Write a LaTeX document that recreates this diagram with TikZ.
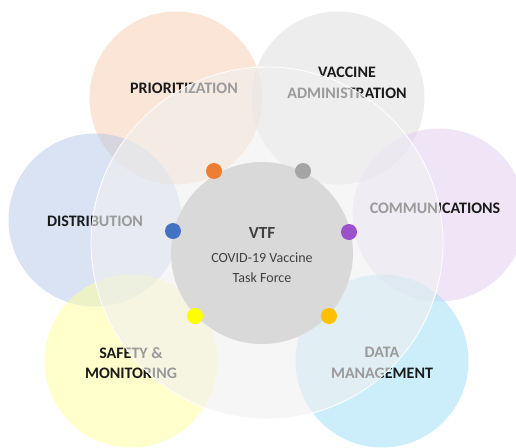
\documentclass[tikz,border=0pt]{standalone}
\usepackage{fontspec}
\setmainfont{Carlito}
\usetikzlibrary{positioning}

\definecolor{prioC}{HTML}{F8CBAD}
\definecolor{adminC}{HTML}{DBDBDB}
\definecolor{commC}{HTML}{E0CCF0}
\definecolor{distC}{HTML}{B4C7E7}
\definecolor{safeC}{HTML}{FFFF99}
\definecolor{dataC}{HTML}{99DDF5}
\definecolor{ringC}{HTML}{F0F0F0}
\definecolor{coreC}{HTML}{D9D9D9}
\definecolor{coreText}{HTML}{404040}
\definecolor{labelText}{HTML}{1A1A1A}
\definecolor{prioDot}{HTML}{ED7D31}
\definecolor{adminDot}{HTML}{A5A5A5}
\definecolor{distDot}{HTML}{4472C4}
\definecolor{commDot}{HTML}{9B50CC}
\definecolor{safeDot}{HTML}{FFFF00}
\definecolor{dataDot}{HTML}{FFC000}

\tikzset{
    petal/.style={circle, fill=#1, fill opacity=0.5, minimum size=173pt, inner sep=0pt},
    petal text/.style={text=labelText, font=\fontsize{16}{20.5}\selectfont\bfseries, align=center, inner sep=0pt},
    knob/.style={circle, fill=#1, minimum size=16pt, inner sep=0pt},
}

\begin{document}
\begin{tikzpicture}[x=1pt, y=-1pt]
        \useasboundingbox (0,0) rectangle (516,447);

        % outer circles
        \node[petal=prioC] (prio) at (176,98) {};
        \node[petal=adminC] (admin) at (338,98) {};
        \node[petal=distC] (dist) at (95,220) {};
        \node[petal=commC] (comm) at (439,215) {};
        \node[petal=safeC] (safe) at (131,361) {};
        \node[petal=dataC] (data) at (382,361) {};

        % their labels
        \node[petal text] (prio label) at (184,88) {PRIORITIZATION};
        \node[petal text] (admin label) at (347,83) {VACCINE\\ADMINISTRATION};
        \node[petal text] (dist label) at (95,221) {DISTRIBUTION};
        \node[petal text] (comm label) at (435,208) {COMMUNICATIONS};
        \node[petal text] (safe label) at (131,363) {SAFETY \&\\MONITORING};
        \node[petal text] (data label) at (382,363) {DATA\\MANAGEMENT};

        % veil over everything
        \node[circle, fill=ringC, fill opacity=0.6, draw=white, line width=0.8pt, minimum size=352pt, inner sep=0pt] (ring) at (267,243) {};

        \node[circle, fill=coreC, minimum size=182pt, inner sep=0pt] (core) at (262,253) {};
        \node[text=coreText, font=\fontsize{17}{19}\selectfont\bfseries] (vtf) at (262,233) {VTF};
        \node[text=coreText, font=\fontsize{14}{20}\selectfont, align=center, below=7pt of vtf] (vtf name) {COVID-19 Vaccine\\Task Force};

        % little dots round the core
        \node[knob=prioDot] (prio dot) at (214,171) {};
        \node[knob=adminDot] (admin dot) at (303,171) {};
        \node[knob=distDot] (dist dot) at (173,231) {};
        \node[knob=commDot] (comm dot) at (349,232) {};
        \node[knob=safeDot] (safe dot) at (195,316) {};
        \node[knob=dataDot] (data dot) at (329,316) {};
    \end{tikzpicture}
\end{document}
